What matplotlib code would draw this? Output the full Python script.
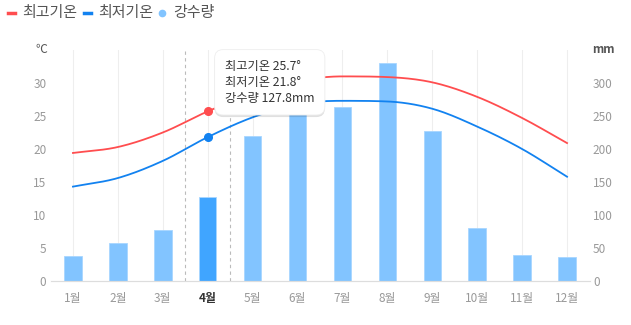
import numpy as np
import matplotlib
matplotlib.use("Agg")
import matplotlib.pyplot as plt
import matplotlib.patheffects as pe
from matplotlib.lines import Line2D

plt.rcParams['font.family'] = ['Noto Sans CJK KR', 'DejaVu Sans']

# 데이터
months = ['1월', '2월', '3월', '4월', '5월', '6월', '7월', '8월', '9월', '10월', '11월', '12월']
high = [19.4, 20.3, 22.5, 25.7, 28.4, 30.3, 31.0, 30.9, 30.1, 27.9, 24.7, 20.9]
low = [14.3, 15.6, 18.2, 21.8, 24.8, 26.8, 27.3, 27.2, 26.1, 23.4, 20.0, 15.8]
rain = [38, 58, 77, 127.8, 220, 272, 264, 331, 227, 81, 39, 36]
sel = 3  # 4월

RED = '#ff4d4f'
BLUE = '#1282f0'
BAR = '#82c4ff'
BAR_SEL = '#40a5ff'


def monotone(xs, ys, num=30):
    # 곡선을 부드럽게 그리기 위한 monotone cubic
    xs = np.asarray(xs, float)
    ys = np.asarray(ys, float)
    h = np.diff(xs)
    d = np.diff(ys) / h
    m = np.zeros_like(ys)
    m[0], m[-1] = d[0], d[-1]
    for i in range(1, len(ys) - 1):
        m[i] = 0 if d[i - 1] * d[i] <= 0 else (d[i - 1] + d[i]) / 2
    for i in range(len(d)):
        if d[i] == 0:
            m[i] = m[i + 1] = 0
        else:
            a, b = m[i] / d[i], m[i + 1] / d[i]
            s = a * a + b * b
            if s > 9:
                t = 3 / np.sqrt(s)
                m[i], m[i + 1] = t * a * d[i], t * b * d[i]
    px, py = [], []
    for i in range(len(d)):
        t = np.linspace(0, 1, num, endpoint=(i == len(d) - 1))
        h00 = 2 * t**3 - 3 * t**2 + 1
        h10 = t**3 - 2 * t**2 + t
        h01 = -2 * t**3 + 3 * t**2
        h11 = t**3 - t**2
        px.append(xs[i] + t * h[i])
        py.append(h00 * ys[i] + h10 * h[i] * m[i] + h01 * ys[i + 1] + h11 * h[i] * m[i + 1])
    return np.concatenate(px), np.concatenate(py)


x = np.arange(1, len(months) + 1)

fig = plt.figure(figsize=(6.31, 3.25), dpi=100)
ax = fig.add_axes([50.5 / 631, 44 / 325, 539 / 631, 231 / 325])  # 강수량 (오른쪽)
ax2 = ax.twinx()  # 기온 (왼쪽)

# 막대
colors = [BAR_SEL if i == sel else BAR for i in range(len(rain))]
ax.bar(x, rain, width=0.39, color=colors, edgecolor='#a8d6ff', linewidth=0.6, zorder=2)
ax.set_ylim(0, 350)
ax.set_xlim(0.5, 12.5)
ax.set_yticks(range(0, 301, 50))
ax.yaxis.tick_right()
ax.yaxis.set_label_position('right')

# 세로 격자
for xi in x:
    ax.axvline(xi, color='#eeeeee', lw=0.8, zorder=0)
ax.axvline(sel + 0.5, color='#bbbbbb', lw=0.8, ls=(0, (3, 3)), zorder=1)
ax.axvline(sel + 1.5, color='#bbbbbb', lw=0.8, ls=(0, (3, 3)), zorder=1)

# 선
hx, hy = monotone(x, high)
lx, ly = monotone(x, low)
ax2.plot(hx, hy, color=RED, lw=1.3)
ax2.plot(lx, ly, color=BLUE, lw=1.3)
ax2.plot(x[sel], high[sel], 'o', color=RED, ms=5.5)
ax2.plot(x[sel], low[sel], 'o', color=BLUE, ms=5.5)
ax2.set_ylim(0, 35)
ax2.set_yticks(range(0, 31, 5))
ax2.yaxis.tick_left()

for a in (ax, ax2):
    for s in ['top', 'left', 'right']:
        a.spines[s].set_visible(False)
    a.spines['bottom'].set_color('#dddddd')
    a.tick_params(length=0, colors='#999999', labelsize=8.5)
ax.tick_params(axis='y', pad=2.5)
ax2.tick_params(axis='y', pad=3)
ax.tick_params(axis='x', pad=8)

ax.set_xticks(x)
ax.set_xticklabels(months)
lbl = ax.get_xticklabels()[sel]
lbl.set_fontweight('bold')
lbl.set_color('#333333')

# 단위
ax2.text(-0.006, 1.0, '℃', transform=ax2.transAxes, ha='right', va='center',
         fontsize=8.5, color='#555555')
ax.text(1.005, 1.0, 'mm', transform=ax.transAxes, ha='left', va='center',
        fontsize=8.5, color='#555555', fontweight='bold')

# 범례
ly0 = 1 - 13 / 325
fig.add_artist(Line2D([8 / 631, 15 / 631], [ly0, ly0], transform=fig.transFigure,
                      color=RED, lw=2.5))
fig.text(22 / 631, ly0, '최고기온', ha='left', va='center', fontsize=10.8, color='#555555')
fig.add_artist(Line2D([84 / 631, 91 / 631], [ly0, ly0], transform=fig.transFigure,
                      color=BLUE, lw=2.5))
fig.text(98 / 631, ly0, '최저기온', ha='left', va='center', fontsize=10.8, color='#555555')
fig.add_artist(Line2D([162 / 631], [ly0], transform=fig.transFigure, marker='o',
                      ms=4.5, color=BAR, lw=0))
fig.text(173 / 631, ly0, '강수량', ha='left', va='center', fontsize=10.8, color='#555555')

# 툴팁
tip = '최고기온 %.1f°\n최저기온 %.1f°\n강수량 %.1fmm' % (high[sel], low[sel], rain[sel])
t = fig.text(225 / 631, 1 - 60 / 325, tip, ha='left', va='top', fontsize=8.8,
             color='#333333', fontweight='medium', linespacing=1.28, zorder=10,
             bbox=dict(boxstyle='round,pad=0.85,rounding_size=0.7', fc='white',
                       ec='#eeeeee', lw=0.6))
t.get_bbox_patch().set_path_effects([pe.SimplePatchShadow(offset=(0, -1.5), alpha=0.12,
                                                          shadow_rgbFace='#000000'),
                                     pe.Normal()])

fig.savefig('out.png', dpi=100)
